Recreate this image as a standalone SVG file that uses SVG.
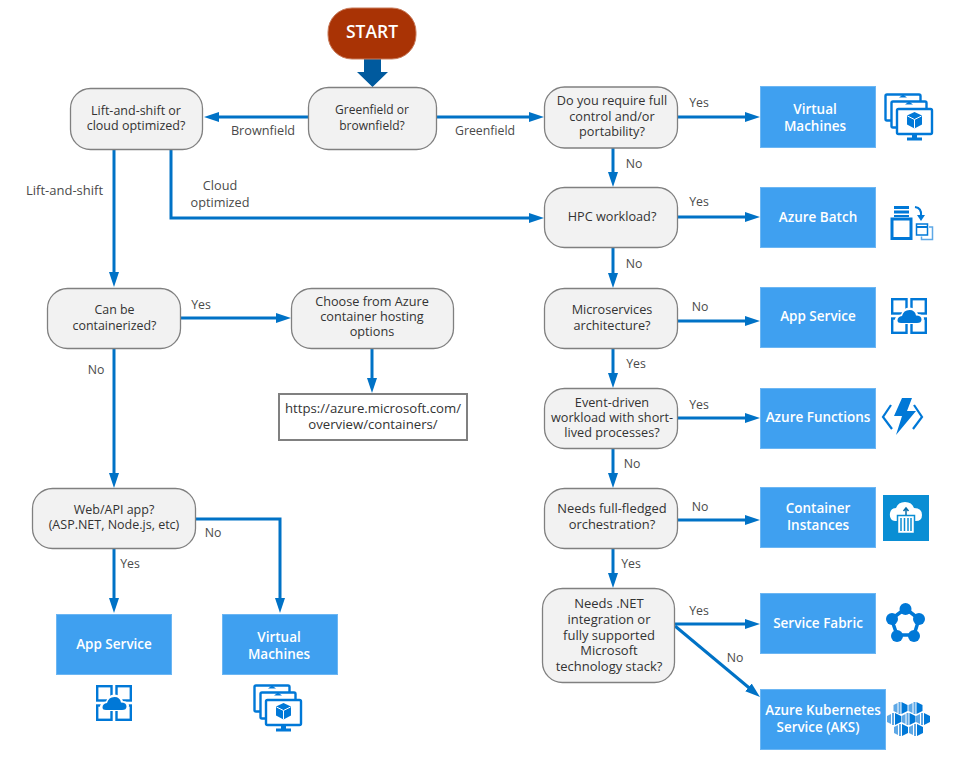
<svg xmlns="http://www.w3.org/2000/svg" width="969" height="771" viewBox="0 0 969 771">
<style>
text{font-family:"Open Sans","Noto Sans","Liberation Sans",sans-serif;font-size:12.700px;fill:#333;text-anchor:middle}
.l{fill:#4a4a4a;font-size:12.300px}
.d{fill:#f2f2f2;stroke:#808080;stroke-width:1.300}
.b{fill:#3fa0f0;stroke:#6cb6f3;stroke-width:1}
.bt{fill:#fff;font-weight:600;font-size:13.500px}
.c{fill:none;stroke:#0072c6;stroke-width:3;marker-end:url(#a)}
.i{fill:none;stroke:#0078d7;stroke-width:2.400}
.f{fill:#0078d7}
</style>
<defs>
<marker id="a" markerUnits="userSpaceOnUse" markerWidth="16" markerHeight="11" refX="5" refY="5.500" orient="auto"><path d="M0 0.500L15 5.500L0 10.500z" fill="#0072c6"/></marker>
<g id="vm">
<rect x="1.500" y="1.500" width="35" height="26" rx="1.500" fill="#fff" stroke="#0078d7" stroke-width="2.400"/>
<path class="f" d="M15 4.500l4-3 4 3z"/>
<rect x="7.500" y="8.500" width="35" height="26" rx="1.500" fill="#fff" stroke="#0078d7" stroke-width="2.400"/>
<path class="f" d="M21 11.500l4-3 4 3z"/>
<rect x="13" y="16" width="35" height="25" rx="1.500" fill="#fff" stroke="#0078d7" stroke-width="2.400"/>
<path class="f" d="M30.500 19l7.500 3.500v9l-7.500 4-7.500-4v-9z"/>
<path d="M23.500 23l7 3.500 7-3.500M30.500 26.500v9" fill="none" stroke="#fff" stroke-width="1"/>
<path class="f" d="M28 41h5v3.500h5v3h-15v-3h5z"/>
</g>
<g id="app">
<rect class="i" x="1.200" y="1.200" width="14.300" height="14.300"/><rect class="i" x="20.500" y="1.200" width="14.300" height="14.300"/><rect class="i" x="1.200" y="20.500" width="14.300" height="14.300"/><rect class="i" x="20.500" y="20.500" width="14.300" height="14.300"/>
<path fill="#fff" d="M4 24q-1-7 6-7.500 2-7 8.500-7 6.500 0 8.500 6.500 6 .5 6 4.500 0 5-5.500 5.500H9z"/>
<path class="f" d="M6.500 22.500q0-4 4.500-4.500 1.500-6 7.500-6 5.500 0 6.500 5.500 5.500 0 5.500 4 0 3.500-4.500 3.500H10q-3.500 0-3.500-2.500z"/>
</g>
<g id="kube">
<path d="M-7-3l4-2v10l-4-2z" fill="#5ea8e6"/><path d="M-2-6h2v12h-2z" fill="#5ea8e6"/><path d="M1-6l6 3v6l-6 3z" fill="#0078d7"/>
</g>
</defs>
<rect width="969" height="771" fill="#fff"/>
<g id="connectors">
<path d="M364 59h17v13h7l-15.500 15L357 72h7z" fill="#005a9e"/>
<path class="c" d="M308 117H214"/>
<path class="c" d="M436 117H534"/>
<path class="c" d="M678 117H750"/>
<path class="c" d="M114 149V277"/>
<path class="c" d="M171 149V218H534"/>
<path class="c" d="M613 148V177"/>
<path class="c" d="M678 217H750"/>
<path class="c" d="M613 247V278"/>
<path class="c" d="M678 321H750"/>
<path class="c" d="M613 348V378"/>
<path class="c" d="M678 418H750"/>
<path class="c" d="M613 448V478"/>
<path class="c" d="M678 520H750"/>
<path class="c" d="M613 548V578"/>
<path class="c" d="M675 624H750"/>
<path class="c" d="M675 626L752.300 690.500"/>
<path class="c" d="M180 318H281"/>
<path class="c" d="M372 348V383"/>
<path class="c" d="M114 348V478"/>
<path class="c" d="M114 548V603"/>
<path class="c" d="M195 519H280V603"/>
</g>
<g id="edge-labels">
<text class="l" x="263" y="135" style="font-size:12.700px">Brownfield</text>
<text class="l" x="485" y="135">Greenfield</text>
<text class="l" x="699" y="107">Yes</text>
<text class="l" x="634" y="168">No</text>
<text class="l" x="64.500" y="195" style="font-size:13px">Lift-and-shift</text>
<text class="l" x="220" y="190" style="font-size:12.700px"><tspan x="220">Cloud</tspan><tspan x="220" dy="16.500">optimized</tspan></text>
<text class="l" x="699" y="206">Yes</text>
<text class="l" x="634" y="268">No</text>
<text class="l" x="700" y="311">No</text>
<text class="l" x="636" y="368">Yes</text>
<text class="l" x="699" y="409">Yes</text>
<text class="l" x="632" y="468">No</text>
<text class="l" x="700" y="511">No</text>
<text class="l" x="631" y="568">Yes</text>
<text class="l" x="699" y="615">Yes</text>
<text class="l" x="735" y="662">No</text>
<text class="l" x="201" y="309">Yes</text>
<text class="l" x="96" y="374">No</text>
<text class="l" x="130" y="568">Yes</text>
<text class="l" x="213" y="537">No</text>
</g>
<g id="start"><rect x="328" y="8" width="88" height="51" rx="24" fill="#a93305" stroke="#c87a5a" stroke-width="1"/><text x="372" y="38" style="font-size:17.500px;font-weight:600;fill:#fff">START</text></g>
<g id="greenfield"><rect class="d" x="308.500" y="87.500" width="128" height="62" rx="20"/><text style="font-size:12px"><tspan x="372" y="114">Greenfield or</tspan><tspan x="372" y="129.500">brownfield?</tspan></text></g>
<g id="lift"><rect class="d" x="70.500" y="88.500" width="132" height="61" rx="20"/><text style="font-size:12.500px"><tspan x="136" y="115">Lift-and-shift or</tspan><tspan x="136" y="130">cloud optimized?</tspan></text></g>
<g id="control"><rect class="d" x="544.500" y="87" width="133" height="61" rx="20"/><text><tspan x="612" y="105">Do you require full</tspan><tspan x="612" y="120.500">control and/or</tspan><tspan x="612" y="136">portability?</tspan></text></g>
<g id="hpc"><rect class="d" x="544.500" y="187.500" width="133" height="60" rx="20"/><text x="612" y="221">HPC workload?</text></g>
<g id="micro"><rect class="d" x="544.500" y="288.500" width="133" height="60" rx="20"/><text><tspan x="612" y="314">Microservices</tspan><tspan x="612" y="330">architecture?</tspan></text></g>
<g id="event"><rect class="d" x="544.500" y="388.500" width="133" height="60" rx="20"/><text><tspan x="612" y="407">Event-driven</tspan><tspan x="612" y="422">workload with short-</tspan><tspan x="612" y="437">lived processes?</tspan></text></g>
<g id="orch"><rect class="d" x="544.500" y="488.500" width="133" height="60" rx="20"/><text style="font-size:12.900px"><tspan x="612" y="513">Needs full-fledged</tspan><tspan x="612" y="529">orchestration?</tspan></text></g>
<g id="dotnet"><rect class="d" x="542.500" y="588.500" width="132" height="94" rx="20"/><text style="font-size:13px"><tspan x="609" y="608">Needs .NET</tspan><tspan x="609" y="624">integration or</tspan><tspan x="609" y="640">fully supported</tspan><tspan x="609" y="655">Microsoft</tspan><tspan x="609" y="671">technology stack?</tspan></text></g>
<g id="contain"><rect class="d" x="47.500" y="288.500" width="133" height="60" rx="20"/><text style="font-size:12.400px"><tspan x="114.500" y="314">Can be</tspan><tspan x="114.500" y="329.500">containerized?</tspan></text></g>
<g id="choose"><rect class="d" x="291.500" y="288.500" width="162" height="60" rx="20"/><text><tspan x="372" y="306">Choose from Azure</tspan><tspan x="372" y="321">container hosting</tspan><tspan x="372" y="336">options</tspan></text></g>
<g id="url"><rect x="279" y="394" width="188" height="46" fill="#fff" stroke="#808080" stroke-width="2"/><text style="font-size:13.200px"><tspan x="373" y="413">https://azure.microsoft.com/</tspan><tspan x="373" y="429">overview/containers/</tspan></text></g>
<g id="webapi"><rect class="d" x="32.500" y="488.500" width="163" height="60" rx="20"/><text style="font-size:12.500px"><tspan x="114" y="514">Web/API app?</tspan><tspan x="114" y="529">(ASP.NET, Node.js, etc)</tspan></text></g>
<g id="vm1"><rect class="b" x="760.500" y="86.500" width="115" height="61"/><text class="bt"><tspan x="815" y="114">Virtual</tspan><tspan x="815" y="131">Machines</tspan></text><use href="#vm" x="884" y="93"/></g>
<g id="batch"><rect class="b" x="760.500" y="187.500" width="115" height="60"/><text class="bt" x="818" y="222">Azure Batch</text>
<path class="f" d="M894 206h15v3h-15zM894 210.500h15v3h-15zM894 215h15v2h-15z"/><rect x="892" y="219" width="19" height="19.500" fill="#fff" stroke="#0078d7" stroke-width="3"/>
<path d="M915 207q7 1 6 9" fill="none" stroke="#0078d7" stroke-width="2.200"/><path class="f" d="M917 215h8l-4 6z"/>
<path d="M929 227h3.500v12.500h-11v-3" fill="none" stroke="#5ea8e6" stroke-width="1.500"/><rect x="916.500" y="224" width="11" height="11" fill="#fff" stroke="#0078d7" stroke-width="1.500"/><path class="f" d="M917 226h10v2h-10z"/></g>
<g id="app1"><rect class="b" x="760.500" y="287.500" width="115" height="60"/><text class="bt" x="818" y="321">App Service</text><use href="#app" x="891" y="298"/></g>
<g id="func"><rect class="b" x="760.500" y="388.500" width="115" height="60"/><text class="bt" x="818" y="422">Azure Functions</text>
<path d="M891 405l-8 12 9 12M914 405l8 12-9 12" fill="none" stroke="#0078d7" stroke-width="2.200"/>
<path class="f" d="M902 398h10l-5 13h9l-20 24 6-19h-8z"/></g>
<g id="aci"><rect class="b" x="760.500" y="487.500" width="115" height="60"/><text class="bt"><tspan x="818" y="513">Container</tspan><tspan x="818" y="530">Instances</tspan></text>
<rect x="883" y="495" width="46" height="46" fill="#0a8ed4"/>
<path fill="#fff" d="M895 521q-6-1-5-8 1-5 6-5 2-6 9-6 7 0 9 6 8 0 8 7 0 6-6 6z"/>
<rect x="897.500" y="515.500" width="17" height="18" fill="#fff" stroke="#0a8ed4" stroke-width="1.500"/>
<path d="M901 518v13M904.500 518v13M908 518v13M911 518v13" stroke="#0a8ed4" stroke-width="1.500"/>
<path d="M906 515v-6M903.500 511l2.500-3 2.500 3" fill="none" stroke="#0a6ea8" stroke-width="1.500"/></g>
<g id="fabric"><rect class="b" x="760.500" y="593.500" width="115" height="60"/><text class="bt" x="818" y="628">Service Fabric</text>
<path d="M905.500 608.500L919 619l-5 16h-17l-5.500-16z" fill="none" stroke="#0078d7" stroke-width="3.500"/>
<g class="f"><circle cx="905.500" cy="609" r="6"/><circle cx="919" cy="619" r="6"/><circle cx="914" cy="636" r="6"/><circle cx="897" cy="636" r="6"/><circle cx="892" cy="619" r="6"/></g></g>
<g id="aks"><rect class="b" x="760.500" y="689.500" width="125" height="60"/><text class="bt" style="font-size:13.400px"><tspan x="823" y="715">Azure Kubernetes</tspan><tspan x="818" y="732">Service (AKS)</tspan></text>
<use href="#kube" x="900.500" y="708"/><use href="#kube" x="915.500" y="708"/><use href="#kube" x="894" y="719"/><use href="#kube" x="908.500" y="719"/><use href="#kube" x="923" y="719"/><use href="#kube" x="901" y="730"/><use href="#kube" x="916" y="730"/></g>
<g id="app2"><rect class="b" x="56.500" y="614.500" width="115" height="60"/><text class="bt" x="114" y="649">App Service</text><use href="#app" x="96" y="685"/></g>
<g id="vm2"><rect class="b" x="222.500" y="614.500" width="115" height="60"/><text class="bt"><tspan x="279" y="642">Virtual</tspan><tspan x="279" y="659">Machines</tspan></text><use href="#vm" x="253" y="684"/></g>
</svg>
